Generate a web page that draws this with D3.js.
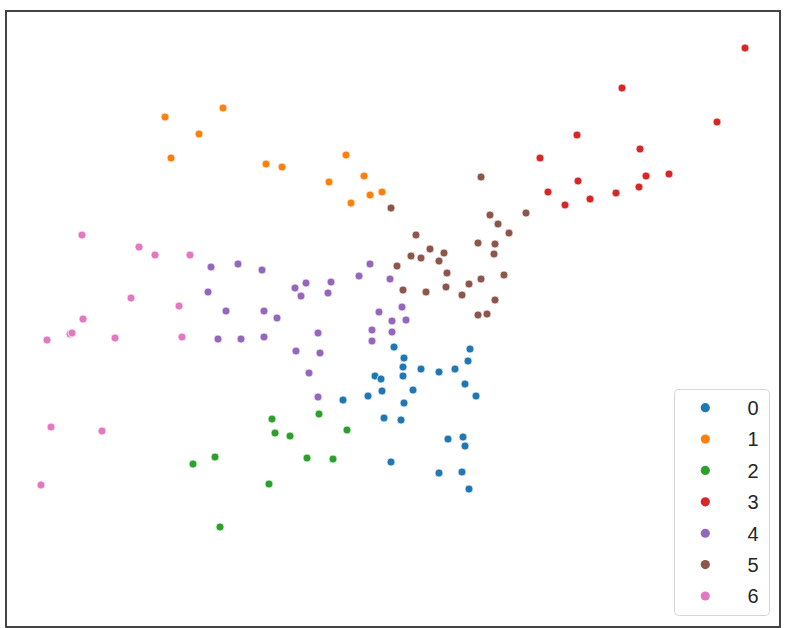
<!DOCTYPE html>
<html><head><meta charset="utf-8">
<script src="https://cdn.jsdelivr.net/npm/d3@7"></script>
<style>body{margin:0;background:#fff}svg{display:block}</style>
</head><body>
<svg id="c" width="787" height="628"></svg>
<script>
const categories = ["0","1","2","3","4","5","6"];
const colors = ["#1f77b4","#ff7f0e","#2ca02c","#d62728","#9467bd","#8c564b","#e377c2"];

const x0 = [39.4,47.0,40.4,46.8,40.3,42.1,43.9,45.5,37.5,38.1,40.3,46.5,38.2,41.3,47.6,34.3,36.8,40.4,38.4,40.1,44.8,46.3,46.5,39.1,43.9,46.2,46.9];
const y0 = [28.1,27.9,27.0,26.7,26.1,25.9,25.6,25.9,25.2,24.9,25.2,24.4,23.7,23.8,23.2,22.8,23.2,22.5,21.0,20.8,18.9,19.1,18.2,16.6,15.5,15.6,13.9];
const x1 = [16.5,22.3,19.9,17.1,26.6,28.2,34.6,32.9,36.4,37.0,38.2,35.1];
const y1 = [51.1,52.0,49.4,47.0,46.4,46.1,47.3,44.6,45.2,43.3,43.6,42.5];
const x2 = [27.2,27.5,29.0,21.5,19.3,26.9,22.0,31.9,34.7,30.7,33.3];
const y2 = [20.9,19.5,19.2,17.1,16.4,14.4,10.1,21.4,19.8,17.0,16.9];
const x3 = [74.5,62.2,71.7,57.7,64.0,54.0,64.6,66.9,57.8,63.9,54.8,61.6,59.0,56.5];
const y3 = [58.0,54.0,50.6,49.3,47.9,47.0,45.2,45.4,44.7,44.1,43.6,43.5,42.9,42.3];
const x4 = [21.1,23.8,26.2,20.8,22.6,26.4,27.7,21.8,24.1,26.4,37.0,35.9,39.0,33.1,30.6,29.5,32.8,30.1,40.2,37.9,39.2,40.6,37.2,39.2,31.8,37.2,29.6,32.0,30.9,31.8];
const y4 = [36.1,36.4,35.8,33.6,31.7,31.7,31.0,28.9,28.9,29.1,36.4,35.2,34.9,34.6,34.5,34.0,33.5,33.2,32.1,31.6,30.7,30.8,29.8,29.6,29.5,28.7,27.7,27.5,25.5,23.1];
const x5 = [48.1,39.1,49.0,52.6,49.8,50.9,41.6,47.8,49.5,43.0,41.1,42.1,44.4,43.9,39.7,49.4,44.7,50.4,48.1,46.9,40.3,42.6,44.6,46.2,49.5,47.8,48.7];
const y5 = [45.1,42.0,41.3,41.5,40.4,39.5,39.3,38.5,38.4,37.9,37.2,37.0,37.5,36.7,36.2,37.4,35.5,35.3,34.9,34.4,33.8,33.6,34.1,33.3,32.8,31.3,31.4];
const x6 = [8.2,13.9,15.5,19.0,13.1,17.9,8.3,7.0,7.2,4.7,11.5,18.2,5.1,10.2,4.1];
const y6 = [39.3,38.1,37.3,37.3,33.0,32.2,30.9,29.4,29.5,28.8,29.0,29.1,20.1,19.7,14.3];

const xs = [x0,x1,x2,x3,x4,x5,x6], ys = [y0,y1,y2,y3,y4,y5,y6];
const points = [];
categories.forEach((c,i)=>xs[i].forEach((v,j)=>points.push({x:v,y:ys[i][j],c:i})));

const W=787,H=628;
const svg = d3.select("#c");
const x = d3.scaleLinear().domain([0,78.7]).range([0,W]);
const y = d3.scaleLinear().domain([0,62.8]).range([H,0]);

svg.append("g").selectAll("circle").data(points).join("circle")
  .attr("cx",d=>x(d.x)).attr("cy",d=>y(d.y)).attr("r",4)
  .attr("fill",d=>colors[d.c]).attr("stroke","#fff").attr("stroke-width",0.7);

// frame
svg.append("rect").attr("x",6).attr("y",11).attr("width",774).attr("height",616)
  .attr("fill","none").attr("stroke","#444").attr("stroke-width",2);

// legend
const lg = svg.append("g");
lg.append("rect").attr("x",674.5).attr("y",389.5).attr("width",95).attr("height",226).attr("rx",4)
  .attr("fill","#fff").attr("fill-opacity",0.8).attr("stroke","#d6d6d6").attr("stroke-width",1);
const ly = d3.scaleLinear().domain([0,6]).range([407.7,596]);
categories.forEach((c,i)=>{
  lg.append("circle").attr("cx",705.3).attr("cy",ly(i)).attr("r",4.6).attr("fill",colors[i]);
  lg.append("text").attr("x",747.5).attr("y",ly(i)+7.3).text(c)
    .attr("font-family","Liberation Sans, Arial, sans-serif").attr("font-size",20).attr("fill","#262626");
});
</script>
</body></html>
